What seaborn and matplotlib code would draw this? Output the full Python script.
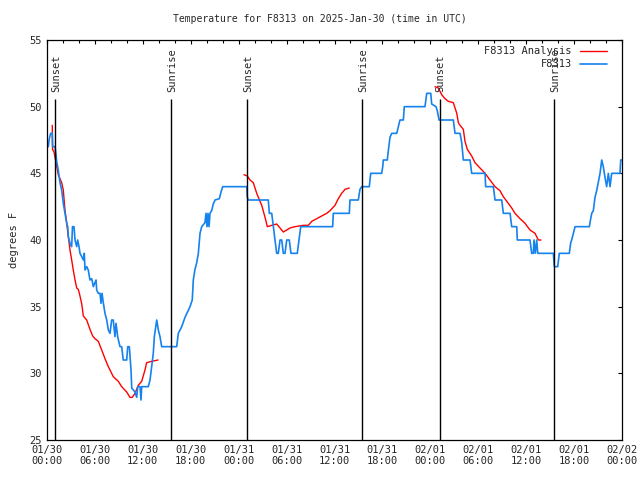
import numpy as np
import pandas as pd
import matplotlib
matplotlib.use('Agg')
import matplotlib.pyplot as plt
from matplotlib.lines import Line2D
from matplotlib.ticker import MultipleLocator
import seaborn as sns

# observed station temps (hours after 01/30 00:00 UTC, deg F)
obs_hours = [0.00, 0.16, 0.29, 0.46, 0.66, 0.71, 1.00, 1.13, 1.21, 1.41, 1.63, 1.84, 2.04, 2.25,
             2.47, 2.59, 2.67, 2.88, 3.09, 3.19, 3.38, 3.51, 3.72, 3.84, 4.01, 4.13, 4.35, 4.55,
             4.67, 4.76, 4.97, 5.17, 5.38, 5.60, 5.80, 6.14, 6.22, 6.42, 6.64, 6.76, 6.89, 7.05,
             7.26, 7.48, 7.68, 7.89, 8.10, 8.30, 8.51, 8.64, 8.85, 9.14, 9.35, 9.55, 9.98, 10.11,
             10.31, 10.52, 10.61, 11.02, 11.23, 11.36, 11.65, 11.77, 11.86, 12.68, 12.90, 13.11,
             13.31, 13.44, 13.74, 13.94, 14.15, 14.36, 16.24, 16.44, 16.87, 17.28, 17.91, 18.19,
             18.32, 18.53, 18.75, 18.95, 19.16, 19.37, 19.78, 19.91, 20.04, 20.16, 20.29, 20.41,
             20.62, 20.82, 21.04, 21.58, 21.79, 22.00, 25.01, 25.08, 25.21, 27.71, 27.84, 28.14,
             28.34, 28.55, 28.76, 28.96, 29.18, 29.39, 29.59, 29.80, 30.02, 30.34, 30.55, 31.34,
             31.56, 31.77, 35.77, 35.85, 37.85, 37.94, 38.98, 39.19, 39.41, 40.36, 40.53, 41.91,
             42.04, 42.11, 42.61, 42.74, 42.95, 43.16, 43.79, 43.99, 44.20, 44.62, 44.74, 47.33,
             47.55, 48.05, 48.17, 48.71, 48.87, 49.09, 50.88, 51.09, 51.72, 51.93, 52.13, 52.97,
             53.18, 54.85, 54.93, 55.89, 56.10, 56.94, 57.14, 57.98, 58.19, 58.82, 58.89, 60.48,
             60.69, 60.89, 60.98, 61.14, 61.32, 61.45, 63.40, 63.53, 63.95, 64.15, 65.40, 65.58,
             65.70, 66.12, 67.91, 68.08, 68.21, 68.41, 68.62, 68.83, 69.03, 69.25, 69.46, 69.66,
             69.87, 70.08, 70.29, 70.50, 70.71, 71.75, 71.84, 72.00]
obs_temps = [47, 47, 47.6, 48, 48, 47, 47, 46.4, 45.9, 45.25, 44.3, 43.75, 42.75, 42,
             41.25, 41, 40.25, 39.75, 39.5, 41, 41, 40, 39.5, 40, 39.5, 39, 38.75, 38.5,
             39, 37.75, 38, 37.75, 37, 37.1, 36.5, 37, 36.25, 36, 36, 35.25, 36, 35.3,
             34.5, 34, 33.25, 33, 34, 34, 32.75, 33.75, 32.75, 32, 32, 31, 31, 32,
             32, 30.25, 28.9, 28.6, 28.2, 29, 29, 28, 29, 29, 29.5, 30.5,
             31.5, 32.75, 34, 33.25, 32.75, 32, 32, 33, 33.5, 34.2, 35, 35.5,
             37, 37.8, 38.3, 39, 40.5, 41, 41.3, 42, 41, 42, 41, 42,
             42.2, 42.7, 43, 43.1, 43.6, 44, 44, 43.2, 43, 43, 42, 42,
             41, 40, 39, 39, 40, 40, 39, 39, 40, 40, 39, 39,
             40, 41, 41, 42, 42, 43, 43, 43.8, 44, 44, 45, 45,
             45.5, 46, 46, 46.7, 47.7, 48, 48, 48.5, 49, 49, 50, 50,
             51, 51, 50.2, 50, 49.7, 49, 49, 48, 48, 47.3, 46, 46,
             45, 45, 44, 44, 43, 43, 42, 42, 41, 41, 40, 40,
             39, 39, 40, 39, 40, 39, 39, 38, 38, 39, 39, 39.8,
             40, 41, 41, 41.6, 42, 42.2, 43.2, 43.7, 44.3, 45, 46, 45.5,
             44.7, 44, 45, 44, 45, 45, 46, 46]

# analysis series, three separate runs
ana1_hours = [0.66, 0.69, 0.88, 1.13, 1.41, 1.84, 2.04, 2.25, 2.47, 2.67, 2.88, 3.09, 3.29, 3.51,
              3.72, 3.92, 4.13, 4.35, 4.55, 4.97, 5.38, 5.72, 6.01, 6.42, 6.85, 7.26, 7.68, 8.30,
              8.93, 9.35, 9.98, 10.39, 10.68, 11.02, 11.43, 11.86, 12.27, 12.48, 13.11, 13.90]
ana1_temps = [48.6, 46.8, 46.6, 45.8, 44.9, 44.3, 43.75, 42.25, 41.25, 40.25, 39.25, 38.5, 37.75, 37,
              36.4, 36.3, 35.8, 35.2, 34.3, 34, 33.3, 32.8, 32.6, 32.4, 31.75, 31.1, 30.5, 29.75,
              29.4, 29, 28.6, 28.2, 28.2, 28.5, 29.1, 29.4, 30.25, 30.8, 30.9, 31]
ana2_hours = [24.67, 25.08, 25.42, 25.83, 26.26, 26.67, 26.89, 27.30, 27.59, 28.14, 28.76, 29.18,
              29.59, 30.02, 30.43, 31.05, 32.09, 32.72, 33.15, 33.77, 34.40, 35.02, 35.44, 36.06,
              36.48, 36.90, 37.32, 37.85]
ana2_temps = [44.9, 44.8, 44.5, 44.3, 43.5, 42.9, 42.6, 41.7, 41, 41.1, 41.2, 40.9,
              40.6, 40.75, 40.9, 41, 41.1, 41.1, 41.4, 41.6, 41.8, 42, 42.2, 42.6,
              43.1, 43.5, 43.8, 43.9]
ana3_hours = [48.59, 49.00, 49.42, 49.84, 50.25, 50.88, 51.31, 51.51, 51.72, 52.13, 52.34, 52.63,
              53.18, 53.59, 54.22, 54.85, 55.47, 56.10, 56.72, 57.14, 57.76, 58.19, 58.60, 59.23,
              59.86, 60.48, 61.11, 61.53, 61.86]
ana3_temps = [51.5, 51.4, 50.9, 50.6, 50.4, 50.3, 49.5, 48.8, 48.6, 48.3, 47.4, 46.8,
              46.3, 45.8, 45.4, 45, 44.5, 44, 43.7, 43.25, 42.75, 42.4, 42, 41.6,
              41.25, 40.75, 40.5, 40, 40]

sun_hours = [1.05, 15.55, 25.1, 39.5, 49.15, 63.5]
sun_labels = ['Sunset', 'Sunrise', 'Sunset', 'Sunrise', 'Sunset', 'Sunrise']

tick_hours = list(range(0, 73, 6))
tick_labels = ['01/30\n00:00', '01/30\n06:00', '01/30\n12:00', '01/30\n18:00',
               '01/31\n00:00', '01/31\n06:00', '01/31\n12:00', '01/31\n18:00',
               '02/01\n00:00', '02/01\n06:00', '02/01\n12:00', '02/01\n18:00',
               '02/02\n00:00']

obs = pd.DataFrame({'hour': obs_hours, 'temp': obs_temps})
ana = pd.concat([
    pd.DataFrame({'hour': ana1_hours, 'temp': ana1_temps, 'seg': 1}),
    pd.DataFrame({'hour': ana2_hours, 'temp': ana2_temps, 'seg': 2}),
    pd.DataFrame({'hour': ana3_hours, 'temp': ana3_temps, 'seg': 3}),
])

sns.set_style('white')
plt.rcParams['font.family'] = ['DejaVu Sans Mono', 'DejaVu Sans']

blue = '#1582ee'
fig = plt.figure(figsize=(6.4, 4.8), dpi=100)
ax = fig.add_axes([47/640, 40/480, 575/640, 400/480])

sns.lineplot(data=ana, x='hour', y='temp', units='seg', estimator=None, sort=False,
             color='red', linewidth=1.0, ax=ax)
sns.lineplot(data=obs, x='hour', y='temp', estimator=None, sort=False,
             color=blue, linewidth=1.2, ax=ax)

# sunrise / sunset markers
ax.vlines(sun_hours, 25, 50.57, color='black', linewidth=1.0)
for h, lab in zip(sun_hours, sun_labels):
    ax.text(h + 0.15, 51.1, lab, rotation=90, ha='center', va='bottom', fontsize=7.5)

ax.set_xlim(0, 72)
ax.set_ylim(25, 55)
ax.set_xticks(tick_hours)
ax.set_xticklabels(tick_labels, fontsize=7.5)
ax.xaxis.set_minor_locator(MultipleLocator(2))
ax.yaxis.set_major_locator(MultipleLocator(5))
ax.tick_params(axis='y', labelsize=7.5)
ax.tick_params(which='both', direction='in', top=True, right=True, color='black', width=0.8)
ax.tick_params(which='major', length=3.2)
ax.tick_params(which='minor', length=1.8)
for s in ax.spines.values():
    s.set_color('black')
    s.set_linewidth(0.9)

ax.set_xlabel('')
ax.set_ylabel('degrees F', fontsize=7.5, labelpad=8)
fig.text(0.5, 1 - 19/480, 'Temperature for F8313 on 2025-Jan-30 (time in UTC)',
         ha='center', va='center', fontsize=7)

handles = [Line2D([], [], color='red', linewidth=1.0),
           Line2D([], [], color=blue, linewidth=1.2)]
ax.legend(handles, ['F8313 Analysis', 'F8313'], loc='upper right', bbox_to_anchor=(0.985, 1.0),
          frameon=False, markerfirst=False, fontsize=7.5, handlelength=2.6,
          handletextpad=0.8, labelspacing=0.3, borderaxespad=0.2)

fig.savefig('out.png', dpi=100)
